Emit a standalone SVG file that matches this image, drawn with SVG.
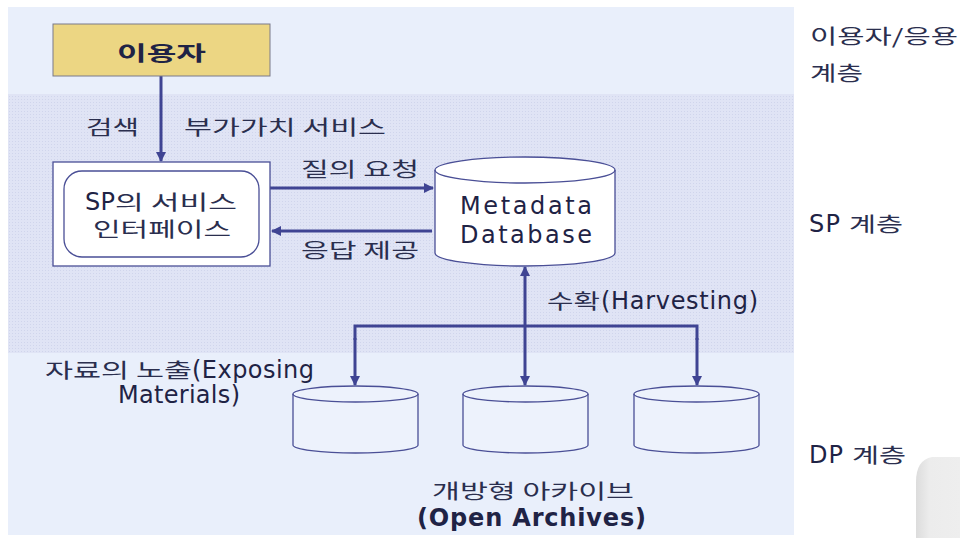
<svg xmlns="http://www.w3.org/2000/svg" width="960" height="538" viewBox="0 0 960 538">
<defs>
<marker id="ah" viewBox="0 0 10 10" refX="9" refY="5" markerWidth="10" markerHeight="10" markerUnits="userSpaceOnUse" orient="auto"><path d="M0,0 L10,5 L0,10 z" fill="#3f4493"/></marker>
<pattern id="hatch" width="3" height="3" patternUnits="userSpaceOnUse"><rect width="3" height="3" fill="#e0e4f5"/><rect width="1" height="1" fill="#d0d5ec"/></pattern>
<linearGradient id="gs" x1="0" y1="0" x2="1" y2="0"><stop offset="0" stop-color="#dcdcdc"/><stop offset="0.3" stop-color="#ececec"/><stop offset="1" stop-color="#eeeeee"/></linearGradient>
</defs>
<style>
.t{font-family:"Noto Sans CJK KR","Noto Sans",sans-serif;fill:#2a2e4e;font-size:20px}
.e{font-family:"DejaVu Sans","Noto Sans CJK KR",sans-serif;fill:#1f2345;font-size:24px}
.ln{stroke:#3f4493;stroke-width:3;fill:none}
.cyl{fill:#edf2fc;stroke:#4a4f96;stroke-width:1.3}
</style>
<rect width="960" height="538" fill="#ffffff"/>
<rect x="8" y="7" width="786" height="87" fill="#e9effb"/>
<rect x="8" y="94" width="786" height="259" fill="url(#hatch)"/>
<rect x="8" y="353" width="786" height="182" fill="#e9effb"/>
<path d="M960,457 L932,457 Q916,460 916,482 L916,538 L960,538 z" fill="url(#gs)"/>

<g id="connectors">
<line class="ln" x1="161" y1="76" x2="161" y2="161" marker-end="url(#ah)"/>
<line class="ln" x1="270" y1="188" x2="433" y2="188" marker-end="url(#ah)"/>
<line class="ln" x1="432" y1="231" x2="272" y2="231" marker-end="url(#ah)"/>
<line class="ln" x1="525" y1="326" x2="525" y2="267" marker-end="url(#ah)"/>
<line class="ln" x1="525" y1="326" x2="525" y2="385" marker-end="url(#ah)"/>
<polyline class="ln" points="355,340 355,326 697,326 697,340"/>
<line class="ln" x1="355" y1="338" x2="355" y2="385" marker-end="url(#ah)"/>
<line class="ln" x1="697" y1="338" x2="697" y2="385" marker-end="url(#ah)"/>
<text class="t" x="86" y="135" textLength="53" lengthAdjust="spacingAndGlyphs">검색</text>
<text class="t" x="184" y="135" textLength="202" lengthAdjust="spacingAndGlyphs">부가가치 서비스</text>
<text class="t" x="301" y="177" textLength="118" lengthAdjust="spacingAndGlyphs">질의 요청</text>
<text class="t" x="301" y="258" textLength="118" lengthAdjust="spacingAndGlyphs">응답 제공</text>
<text class="t" x="547" y="309" textLength="53" lengthAdjust="spacingAndGlyphs">수확</text>
<text class="e" x="601" y="309" textLength="157" lengthAdjust="spacing">(Harvesting)</text>
<text class="t" x="45" y="378" textLength="147" lengthAdjust="spacingAndGlyphs">자료의 노출</text>
<text class="e" x="192" y="378" textLength="122" lengthAdjust="spacing">(Exposing</text>
<text class="e" x="118" y="403" textLength="122" lengthAdjust="spacing">Materials)</text>
</g>

<g id="user">
<rect x="53" y="24" width="217" height="52" fill="#ecd683" stroke="#7a7a8a" stroke-width="1"/>
<text class="t" x="117" y="61" font-size="23" font-weight="bold" textLength="89" lengthAdjust="spacingAndGlyphs" style="fill:#1f2345">이용자</text>
</g>

<g id="sp-interface">
<rect x="53" y="162" width="217" height="104" fill="#ffffff" stroke="#4a4f96" stroke-width="1.3"/>
<rect x="64" y="171" width="195" height="86" rx="18" fill="#ffffff" stroke="#4a4f96" stroke-width="1.3"/>
<text class="e" x="85" y="210" font-size="23" textLength="30" lengthAdjust="spacing">SP</text>
<text class="t" x="115" y="210" textLength="122" lengthAdjust="spacingAndGlyphs">의 서비스</text>
<text class="t" x="93" y="237" textLength="138" lengthAdjust="spacingAndGlyphs">인터페이스</text>
</g>

<g id="metadata-db">
<path d="M435,170 A90,13 0 0 1 615,170 L615,253 A90,13 0 0 1 435,253 z" fill="#ffffff" stroke="#4a4f96" stroke-width="1.3"/>
<path d="M435,170 A90,13 0 0 0 615,170" fill="none" stroke="#4a4f96" stroke-width="1.3"/>
<text class="e" x="460" y="214" font-size="28" textLength="132" lengthAdjust="spacing">Metadata</text>
<text class="e" x="460" y="243" font-size="28" textLength="132" lengthAdjust="spacing">Database</text>
</g>

<g id="archive1">
<path class="cyl" d="M293,394 A62.5,8 0 0 1 418,394 L418,445 A62.5,8 0 0 1 293,445 z"/>
<path d="M293,394 A62.5,8 0 0 0 418,394" fill="none" stroke="#4a4f96" stroke-width="1.3"/>
</g>
<g id="archive2">
<path class="cyl" d="M463,394 A62.5,8 0 0 1 588,394 L588,445 A62.5,8 0 0 1 463,445 z"/>
<path d="M463,394 A62.5,8 0 0 0 588,394" fill="none" stroke="#4a4f96" stroke-width="1.3"/>
</g>
<g id="archive3">
<path class="cyl" d="M634,394 A62.5,8 0 0 1 759,394 L759,445 A62.5,8 0 0 1 634,445 z"/>
<path d="M634,394 A62.5,8 0 0 0 759,394" fill="none" stroke="#4a4f96" stroke-width="1.3"/>
</g>

<g id="archives-label">
<text class="t" x="432" y="499" textLength="202" lengthAdjust="spacingAndGlyphs">개방형 아카이브</text>
<text class="e" x="417" y="526" font-weight="bold" font-size="23" textLength="229" lengthAdjust="spacing">(Open Archives)</text>
</g>

<g id="layer-labels">
<text class="t" x="810" y="44" font-size="21" textLength="148" lengthAdjust="spacingAndGlyphs">이용자/응용</text>
<text class="t" x="810" y="81" font-size="21" textLength="53" lengthAdjust="spacingAndGlyphs">계층</text>
<text class="e" x="809" y="232" font-size="23" textLength="31" lengthAdjust="spacing">SP</text>
<text class="t" x="849" y="232" font-size="21" textLength="54" lengthAdjust="spacingAndGlyphs">계층</text>
<text class="e" x="809" y="463" font-size="23" textLength="34" lengthAdjust="spacing">DP</text>
<text class="t" x="852" y="463" font-size="21" textLength="54" lengthAdjust="spacingAndGlyphs">계층</text>
</g>
</svg>
